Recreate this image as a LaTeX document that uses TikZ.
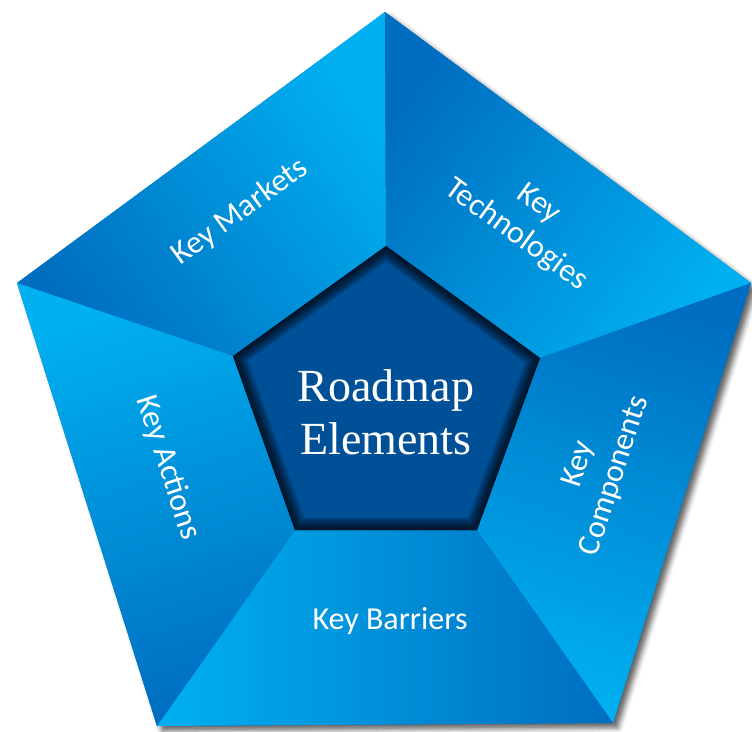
\documentclass[tikz,border=0pt]{standalone}
\usepackage{fontspec}
\setmainfont{Carlito}
\newfontfamily\serifroad{Liberation Serif}
\usetikzlibrary{shadows.blur}
\definecolor{lightb}{RGB}{0,176,240}
\definecolor{darkb}{RGB}{0,110,192}
\definecolor{innerc}{RGB}{0,80,152}
\tikzset{
  seglabel/.style={text=white, font=\fontsize{32}{38}\selectfont, inner sep=0pt},
  centerlabel/.style={text=white, font=\serifroad\fontsize{46}{53}\selectfont, align=center, inner sep=0pt},
  segshade/.style={top color=lightb, bottom color=darkb}
}
\begin{document}
\begin{tikzpicture}[x=1pt,y=-1pt]
\useasboundingbox (0,0) rectangle (752,731);
% outer vertices
\coordinate (O1) at (385,12);
\coordinate (O2) at (751,283);
\coordinate (O3) at (613,723);
\coordinate (O4) at (157,726);
\coordinate (O5) at (17,283);
% inner vertices
\coordinate (I1) at (386,246);
\coordinate (I2) at (540,358);
\coordinate (I3) at (477,530);
\coordinate (I4) at (295,530);
\coordinate (I5) at (233,356);
% shadow base
\fill[darkb, blur shadow={shadow xshift=5pt, shadow yshift=-5pt, shadow blur radius=5pt, shadow opacity=60}]
  (O1)--(O2)--(O3)--(O4)--(O5)--cycle;
% segments
\shade[segshade, shading angle=-53.6] (O5)--(O1)--(I1)--(I5)--cycle;
\shade[segshade, shading angle=-126.6] (O1)--(O2)--(I2)--(I1)--cycle;
\shade[segshade, shading angle=162.7] (O2)--(O3)--(I3)--(I2)--cycle;
\shade[segshade, shading angle=90] (O3)--(O4)--(I4)--(I3)--cycle;
\shade[segshade, shading angle=17.5] (O4)--(O5)--(I5)--(I4)--cycle;
% inner pentagon
\begin{scope}
  \clip (I1)--(I2)--(I3)--(I4)--(I5)--cycle;
  \fill[innerc] (I1)--(I2)--(I3)--(I4)--(I5)--cycle;
  \foreach \w in {2,4,...,26}
    \draw[black, opacity=0.085, line width=\w pt, line join=miter] (I1)--(I2)--(I3)--(I4)--(I5)--cycle;
\end{scope}
% labels
\node[centerlabel] (rm) at (386,412) {Roadmap\\Elements};
\node[seglabel, rotate=36] (km) at (240,212) {Key Markets};
\node[seglabel, rotate=-36, align=center] (kt) at (527,220) {Key\\Technologies};
\node[seglabel, rotate=72, align=center] (kc) at (597,470) {Key\\Components};
\node[seglabel, rotate=-72] (ka) at (168,468) {Key Actions};
\node[seglabel] (kb) at (390,621) {Key Barriers};
\end{tikzpicture}
\end{document}
